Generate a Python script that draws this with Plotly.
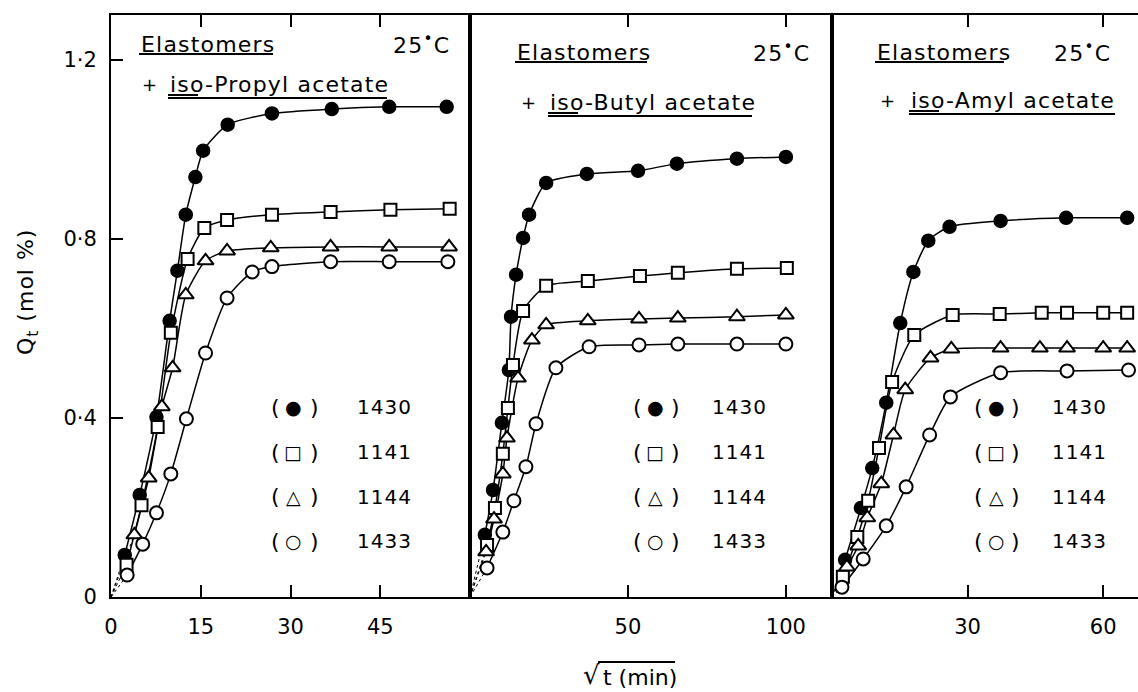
import plotly.graph_objects as go

FONT = "DejaVu Sans"

# ---- sorption data: Q_t (mol %) against sqrt(t) for four elastomers ----
# Panel 1: + iso-Propyl acetate
p1_1430_x = [2.3, 4.8, 7.6, 9.8, 11.1, 12.5, 14.1, 15.4, 19.5, 26.9, 36.9, 46.5, 56.1]
p1_1430_y = [0.094, 0.228, 0.402, 0.617, 0.729, 0.854, 0.938, 0.997, 1.055, 1.080, 1.090, 1.095, 1.095]
p1_1141_x = [2.6, 5.1, 7.8, 10.0, 12.8, 15.6, 19.4, 26.9, 36.7, 46.7, 56.6]
p1_1141_y = [0.072, 0.205, 0.380, 0.590, 0.755, 0.824, 0.842, 0.854, 0.860, 0.865, 0.867]
p1_1144_x = [3.9, 6.3, 8.5, 10.3, 12.5, 15.8, 19.4, 26.7, 36.7, 46.5, 56.5]
p1_1144_y = [0.139, 0.266, 0.425, 0.512, 0.675, 0.751, 0.773, 0.780, 0.782, 0.782, 0.782]
p1_1433_x = [2.7, 5.3, 7.6, 10.0, 12.6, 15.8, 19.4, 23.6, 26.9, 36.7, 46.5, 56.3]
p1_1433_y = [0.049, 0.118, 0.188, 0.275, 0.398, 0.545, 0.668, 0.726, 0.738, 0.749, 0.749, 0.749]

# Panel 2: + iso-Butyl acetate
p2_1430_x = [4.7, 7.3, 10.1, 12.3, 13.0, 14.6, 16.8, 18.7, 24.1, 37.0, 53.2, 65.5, 84.5, 100.0]
p2_1430_y = [0.139, 0.239, 0.389, 0.507, 0.626, 0.720, 0.802, 0.854, 0.925, 0.945, 0.952, 0.968, 0.979, 0.983]
p2_1141_x = [5.4, 7.9, 10.4, 12.0, 13.6, 16.8, 24.1, 37.3, 53.8, 65.8, 84.5, 100.3]
p2_1141_y = [0.116, 0.199, 0.320, 0.422, 0.518, 0.639, 0.695, 0.706, 0.717, 0.724, 0.733, 0.735]
p2_1144_x = [5.1, 7.6, 10.4, 11.7, 15.2, 19.6, 24.1, 37.3, 53.5, 65.8, 84.5, 100.0]
p2_1144_y = [0.101, 0.174, 0.275, 0.355, 0.489, 0.574, 0.608, 0.617, 0.621, 0.623, 0.626, 0.630]
p2_1433_x = [5.4, 10.4, 13.9, 17.7, 20.9, 27.2, 37.7, 53.5, 65.8, 84.5, 100.0]
p2_1433_y = [0.065, 0.145, 0.215, 0.291, 0.387, 0.512, 0.559, 0.563, 0.565, 0.565, 0.565]

# Panel 3: + iso-Amyl acetate
p3_1430_x = [2.9, 6.4, 8.9, 12.0, 15.1, 18.0, 21.3, 26.0, 37.3, 51.8, 65.3]
p3_1430_y = [0.083, 0.199, 0.288, 0.434, 0.612, 0.726, 0.796, 0.827, 0.840, 0.847, 0.847]
p3_1141_x = [2.4, 5.6, 8.0, 10.4, 13.3, 18.2, 26.7, 37.1, 46.4, 52.0, 60.0, 65.3]
p3_1141_y = [0.045, 0.134, 0.215, 0.333, 0.480, 0.585, 0.630, 0.632, 0.635, 0.635, 0.635, 0.635]
p3_1144_x = [3.3, 5.8, 7.8, 10.9, 13.6, 16.2, 21.8, 26.4, 37.3, 46.0, 52.0, 60.0, 65.3]
p3_1144_y = [0.067, 0.114, 0.177, 0.253, 0.362, 0.463, 0.534, 0.554, 0.556, 0.556, 0.556, 0.556, 0.556]
p3_1433_x = [2.2, 6.9, 12.0, 16.4, 21.6, 26.2, 37.3, 52.0, 65.6]
p3_1433_y = [0.022, 0.085, 0.159, 0.246, 0.362, 0.447, 0.501, 0.505, 0.507]

elastomers = ["1430", "1141", "1144", "1433"]
solvents = ["iso-Propyl acetate", "iso-Butyl acetate", "iso-Amyl acetate"]

panels = [
    {"1430": (p1_1430_x, p1_1430_y), "1141": (p1_1141_x, p1_1141_y),
     "1144": (p1_1144_x, p1_1144_y), "1433": (p1_1433_x, p1_1433_y)},
    {"1430": (p2_1430_x, p2_1430_y), "1141": (p2_1141_x, p2_1141_y),
     "1144": (p2_1144_x, p2_1144_y), "1433": (p2_1433_x, p2_1433_y)},
    {"1430": (p3_1430_x, p3_1430_y), "1141": (p3_1141_x, p3_1141_y),
     "1144": (p3_1144_x, p3_1144_y), "1433": (p3_1433_x, p3_1433_y)},
]

x_ticks = [[0, 15, 30, 45], [50, 100], [30, 60]]
x_ranges = [[0, 60], [0, 114.6], [0, 67.7]]
y_ticks = [0, 0.4, 0.8, 1.2]
y_ticklabels = ["0", "0·4", "0·8", "1·2"]

marker_style = {
    "1430": dict(symbol="circle", size=13, color="black", line=dict(color="black", width=1.5)),
    "1141": dict(symbol="square", size=12, color="white", line=dict(color="black", width=2)),
    "1144": dict(symbol="triangle-up", size=14, color="white", line=dict(color="black", width=2)),
    "1433": dict(symbol="circle", size=13, color="white", line=dict(color="black", width=2)),
}
legend_glyph = {"1430": "●", "1141": "□", "1144": "△", "1433": "○"}

# ---- page geometry (pixels) ----
W, H = 1138, 692
L, R, T, B = 111, 0, 15, 95
PW, PH = W - L - R, H - T - B
dividers = [470, 832]
doms = [[0, (dividers[0] - L) / PW], [(dividers[0] - L) / PW, (dividers[1] - L) / PW],
        [(dividers[1] - L) / PW, 1.0]]


def fx(px):
    return (px - L) / PW


def fy(py):
    return (H - B - py) / PH


def spaced(s, px=1.2):
    return f'<span style="letter-spacing:{px}px">{s}</span>'


fig = go.Figure()
axes = [("x", "y"), ("x2", "y2"), ("x3", "y3")]

# curves first, so every marker sits on top of them
for k, panel in enumerate(panels):
    xa, ya = axes[k]
    for name in elastomers:
        xs, ys = panel[name]
        fig.add_trace(go.Scatter(x=xs, y=ys, mode="lines", xaxis=xa, yaxis=ya,
                                 line=dict(color="black", width=1.5, shape="spline", smoothing=0.6),
                                 hoverinfo="skip", showlegend=False))
        fig.add_trace(go.Scatter(x=[0, xs[0]], y=[0, ys[0]], mode="lines", xaxis=xa, yaxis=ya,
                                 line=dict(color="black", width=1, dash="3px,3px"),
                                 hoverinfo="skip", showlegend=False))
for k, panel in enumerate(panels):
    xa, ya = axes[k]
    for name in elastomers:
        xs, ys = panel[name]
        fig.add_trace(go.Scatter(x=xs, y=ys, mode="markers", xaxis=xa, yaxis=ya, name=name,
                                 marker=marker_style[name], showlegend=False))

axis_common = dict(showgrid=False, zeroline=False, showline=True, linecolor="black", linewidth=2,
                   ticks="inside", ticklen=12, tickwidth=2, tickcolor="black",
                   tickfont=dict(family=FONT, size=21, color="black"))

layout = dict(width=W, height=H, margin=dict(l=L, r=R, t=T, b=B),
              plot_bgcolor="white", paper_bgcolor="white", showlegend=False,
              font=dict(family=FONT, color="black"))
for k in range(3):
    key = "xaxis" if k == 0 else f"xaxis{k + 1}"
    layout[key] = dict(axis_common, domain=doms[k], range=x_ranges[k], anchor="y" if k == 0 else f"y{k + 1}",
                       tickvals=x_ticks[k], ticktext=[str(v) for v in x_ticks[k]], mirror="ticks",
                       ticklabelstandoff=10)
layout["yaxis"] = dict(axis_common, range=[0, 1.3], anchor="x", tickvals=y_ticks, ticktext=y_ticklabels,
                       mirror=True, ticklabelstandoff=8)
layout["yaxis2"] = dict(axis_common, range=[0, 1.3], anchor="x2", ticks="", showticklabels=False, mirror=True)
layout["yaxis3"] = dict(axis_common, range=[0, 1.3], anchor="x3", ticks="", showticklabels=False, mirror=False)
layout["yaxis4"] = dict(axis_common, range=[0, 1.3], anchor="x3", overlaying="y3", side="right",
                        showline=False, tickvals=y_ticks[1:], showticklabels=False)
fig.update_layout(**layout)

# ---- panel headings ----
title_font = dict(family=FONT, size=22, color="black")
heading = [  # (Elastomers left, row-1 centre, 25C right, "+" x, solvent left, row-2 centre)
    (139, 44, 452, 149, 168, 84),
    (515, 52, 812, 528, 548, 102),
    (875, 52, 1113, 887, 909, 100),
]
ann = []
shapes = []
for k, (ex, ey, cx, plx, sx, sy) in enumerate(heading):
    ann.append(dict(x=fx(ex), y=fy(ey), xref="paper", yref="paper", text=spaced("Elastomers"),
                    xanchor="left", yanchor="middle", showarrow=False, font=title_font))
    ann.append(dict(x=fx(cx), y=fy(ey), xref="paper", yref="paper", text=spaced("25<sup>•</sup>C"),
                    xanchor="right", yanchor="middle", showarrow=False, font=title_font))
    ann.append(dict(x=fx(plx), y=fy(sy), xref="paper", yref="paper", text="+",
                    xanchor="center", yanchor="middle", showarrow=False, font=dict(family=FONT, size=18)))
    ann.append(dict(x=fx(sx), y=fy(sy), xref="paper", yref="paper", text=spaced(solvents[k]),
                    xanchor="left", yanchor="middle", showarrow=False, font=title_font))

underline = [  # (x0, x1, y) per heading line
    [(139, 273, 54), (168, 387, 98), (168, 198, 95)],
    [(515, 647, 62), (548, 752, 116), (548, 578, 113)],
    [(875, 1004, 62), (909, 1115, 114), (909, 939, 111)],
]
for segs in underline:
    for x0, x1, y in segs:
        shapes.append(dict(type="line", xref="paper", yref="paper", x0=fx(x0), x1=fx(x1), y0=fy(y), y1=fy(y),
                           line=dict(color="black", width=2)))

# ---- in-panel keys ----
key_rows = [407, 452, 497, 541]
key_cols = [(275, 293, 314, 355), (637, 655, 675, 710), (978, 996, 1015, 1050)]
key_font = dict(family=FONT, size=22, color="black")
for (lp, sc, rp, nx) in key_cols:
    for name, ry in zip(elastomers, key_rows):
        ann.append(dict(x=fx(lp), y=fy(ry), xref="paper", yref="paper", text="(", xanchor="center",
                        yanchor="middle", showarrow=False, font=key_font))
        ann.append(dict(x=fx(sc), y=fy(ry), xref="paper", yref="paper", text=legend_glyph[name],
                        xanchor="center", yanchor="middle", showarrow=False,
                        font=dict(family=FONT, size=19, color="black")))
        ann.append(dict(x=fx(rp), y=fy(ry), xref="paper", yref="paper", text=")", xanchor="center",
                        yanchor="middle", showarrow=False, font=key_font))
        ann.append(dict(x=fx(nx), y=fy(ry), xref="paper", yref="paper", text=spaced(name, 1), xanchor="left",
                        yanchor="middle", showarrow=False, font=dict(family=FONT, size=20, color="black")))

# ---- axis titles ----
ann.append(dict(x=fx(27), y=fy(292), xref="paper", yref="paper",
                text=spaced("Q<sub>t</sub> (mol %)", 1),
                textangle=-90, xanchor="center", yanchor="middle", showarrow=False,
                font=dict(family=FONT, size=22, color="black")))
ann.append(dict(x=fx(591), y=fy(675), xref="paper", yref="paper", text="√",
                xanchor="center", yanchor="middle", showarrow=False,
                font=dict(family=FONT, size=26, color="black")))
ann.append(dict(x=fx(601), y=fy(677), xref="paper", yref="paper", text="t (min)",
                xanchor="left", yanchor="middle", showarrow=False,
                font=dict(family=FONT, size=22, color="black")))
shapes.append(dict(type="line", xref="paper", yref="paper", x0=fx(598), x1=fx(675), y0=fy(662), y1=fy(662),
                   line=dict(color="black", width=2)))

fig.update_layout(annotations=ann, shapes=shapes)
fig.write_html("out.html")
